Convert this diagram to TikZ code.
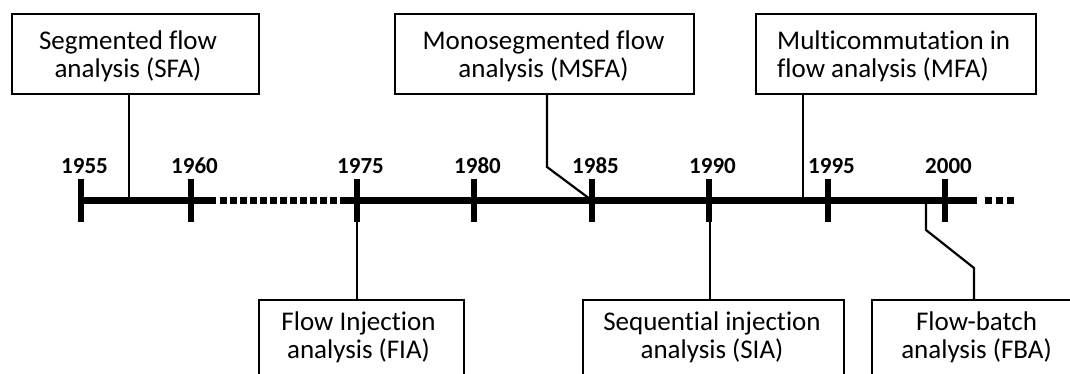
\documentclass[tikz,border=0pt]{standalone}
\usepackage{fontspec}
\setmainfont{Carlito}[Ligatures=NoCommon]
\begin{document}
\begin{tikzpicture}[x=1pt,y=-1pt,
  box/.style={draw, line width=2.2pt, inner sep=0, anchor=north west},
  boxtxt/.style={align=center, font=\fontsize{27}{27.5}\selectfont, inner sep=0},
  year/.style={font=\bfseries\fontsize{23}{23}\selectfont, anchor=base, inner sep=0},
  tickmark/.style={line width=5.5pt},
  axisline/.style={line width=6pt},
  conn/.style={line width=2.2pt, line join=miter},
  dotline/.style={line width=6pt, dash pattern=on 6.5pt off 3.5pt}
]
\useasboundingbox (0,0) rectangle (1070,374);
\clip (0,0) rectangle (1070,374);

% axis
\coordinate (ax0) at (80,200.5);
\coordinate (ax1) at (216,200.5);
\coordinate (ad0) at (220,200.5);
\coordinate (ad1) at (340,200.5);
\coordinate (ax2) at (340,200.5);
\coordinate (ax3) at (977,200.5);
\coordinate (ae0) at (985,200.5);
\coordinate (ae1) at (1014,200.5);
\draw[axisline] (ax0) -- (ax1);
\draw[dotline] (ad0) -- (ad1);
\draw[axisline] (ax2) -- (ax3);
\draw[axisline, dash pattern=on 7pt off 4pt] (ae0) -- (ae1);

% ticks and years
\foreach \x/\yr in {81/1955,191/1960,357/1975,474/1980,592/1985,709/1990,828/1995,945/2000}{
  \draw[tickmark] (\x,179) -- (\x,222);
  \node[year] (y\yr) at (\x+3.5,174) {\yr};
}

% top boxes
\node[box, minimum width=247pt, minimum height=80pt] (sfa) at (11,13) {};
\node[boxtxt] (sfat) at (128,56.5) {Segmented flow\\analysis (SFA)};
\node[box, minimum width=299pt, minimum height=80pt] (msfa) at (394,13) {};
\node[boxtxt] (msfat) at (543.5,56.5) {Monosegmented flow\\analysis (MSFA)};
\node[box, minimum width=280pt, minimum height=80pt] (mfa) at (755,13) {};
\node[boxtxt, align=left, anchor=west] (mfat) at (777,56.5) {Multicommutation in\\flow analysis (MFA)};

% bottom boxes (cut by the lower edge)
\node[box, minimum width=205pt, minimum height=90pt] (fia) at (258,299) {};
\node[boxtxt] (fiat) at (358.5,337.5) {Flow Injection\\analysis (FIA)};
\node[box, minimum width=261pt, minimum height=90pt] (sia) at (582,299) {};
\node[boxtxt] (siat) at (712,337.5) {Sequential injection\\analysis (SIA)};
\node[box, minimum width=211pt, minimum height=90pt] (fba) at (871,299) {};
\node[boxtxt] (fbat) at (976.5,337.5) {Flow-batch\\analysis (FBA)};

% connectors
\coordinate (c1) at (129,200.5);
\draw[conn] (sfa.south -| c1) -- (c1);

\coordinate (c2a) at (547,167);
\coordinate (c2) at (592,200.5);
\draw[conn] (msfa.south -| c2a) -- (c2a) -- (c2);

\coordinate (c3) at (803,200.5);
\draw[conn] (mfa.south -| c3) -- (c3);

\coordinate (c4) at (357,200.5);
\draw[conn] (c4) -- (fia.north -| c4);

\coordinate (c5) at (710,200.5);
\draw[conn] (c5) -- (sia.north -| c5);

\coordinate (c6) at (926,200.5);
\coordinate (c6a) at (926,230);
\coordinate (c6b) at (974,268);
\draw[conn] (c6) -- (c6a) -- (c6b) -- (fba.north -| c6b);
\end{tikzpicture}
\end{document}
